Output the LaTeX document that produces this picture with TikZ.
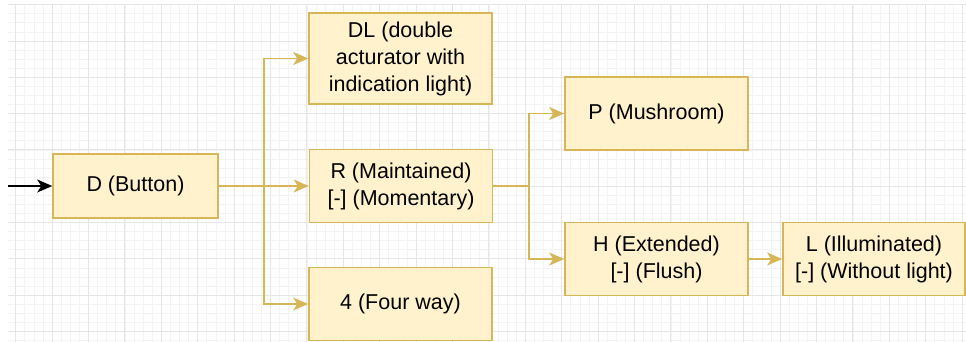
\documentclass[tikz,border=0pt]{standalone}
\usepackage{fontspec}
\setmainfont{Liberation Sans}
\usetikzlibrary{positioning}
\usetikzlibrary{arrows.meta}
\definecolor{boxfill}{HTML}{FFF2CC}
\definecolor{boxline}{HTML}{D6B656}
\definecolor{gridminor}{HTML}{F3F3F3}
\definecolor{gridmajor}{HTML}{E6E6E6}

\begin{document}
\begin{tikzpicture}[x=1pt, y=-1pt,
		opt/.style={draw=boxline, fill=boxfill, line width=1.6pt, minimum width=183pt, minimum height=73pt,
			inner sep=0pt, align=center, font=\fontsize{21.5}{27}\selectfont},
		link/.style={draw=boxline, line width=1.6pt, -{Stealth[length=15pt, width=13pt, inset=4pt]}}]
				\useasboundingbox (0,0) rectangle (966,342);
				\fill[white] (0,0) rectangle (966,342);
				\foreach \k in {0,...,104} {
					\draw[gridminor, line width=0.7pt] ({15.7+9.1*\k},5) -- ({15.7+9.1*\k},342);
				}
				\foreach \k in {0,...,37} {
					\draw[gridminor, line width=0.7pt] (8,{4.7+9.075*\k}) -- (966,{4.7+9.075*\k});
				}
				\foreach \k in {0,...,26} {
					\draw[gridmajor, line width=0.9pt] ({15.7+36.4*\k},5) -- ({15.7+36.4*\k},342);
				}
				\foreach \k in {0,...,9} {
					\draw[gridmajor, line width=0.9pt] (8,{4.7+36.3*\k}) -- (966,{4.7+36.3*\k});
				}
				\node[opt, minimum width=165pt, minimum height=64pt] (d) at (135.5,186) {D (Button)};
				\node[opt, minimum height=91pt] (dl) at (400.5,58.5) {DL (double\\acturator with\\indication light)};
				\node[opt] (r) at (401,186) {R (Maintained)\\{[-]} (Momentary)};
				\node[opt] (four) at (400.5,304) {4 (Four way)};
				\node[opt] (p) at (656.5,113.5) {P (Mushroom)};
				\node[opt] (h) at (656.5,259) {H (Extended)\\{[-]} (Flush)};
				\node[opt, minimum width=182pt] (l) at (874,259) {L (Illuminated)\\{[-]} (Without light)};
				\node[shape=coordinate] (start) at (8,186) {};
				\node[shape=coordinate] (fork1) at (264,186) {};
				\node[shape=coordinate] (fork2) at (529,186) {};
				\draw[link, draw=black] (start) -- (d);
				\draw[link] (d) -- (r);
				\draw[link] (d.east) -- (fork1) |- (dl.west);
				\draw[link] (d.east) -- (fork1) |- (four.west);
				\draw[link] (r.east) -- (fork2) |- (p.west);
				\draw[link] (r.east) -- (fork2) |- (h.west);
				\draw[link] (h) -- (l);
			\end{tikzpicture}
\end{document}
